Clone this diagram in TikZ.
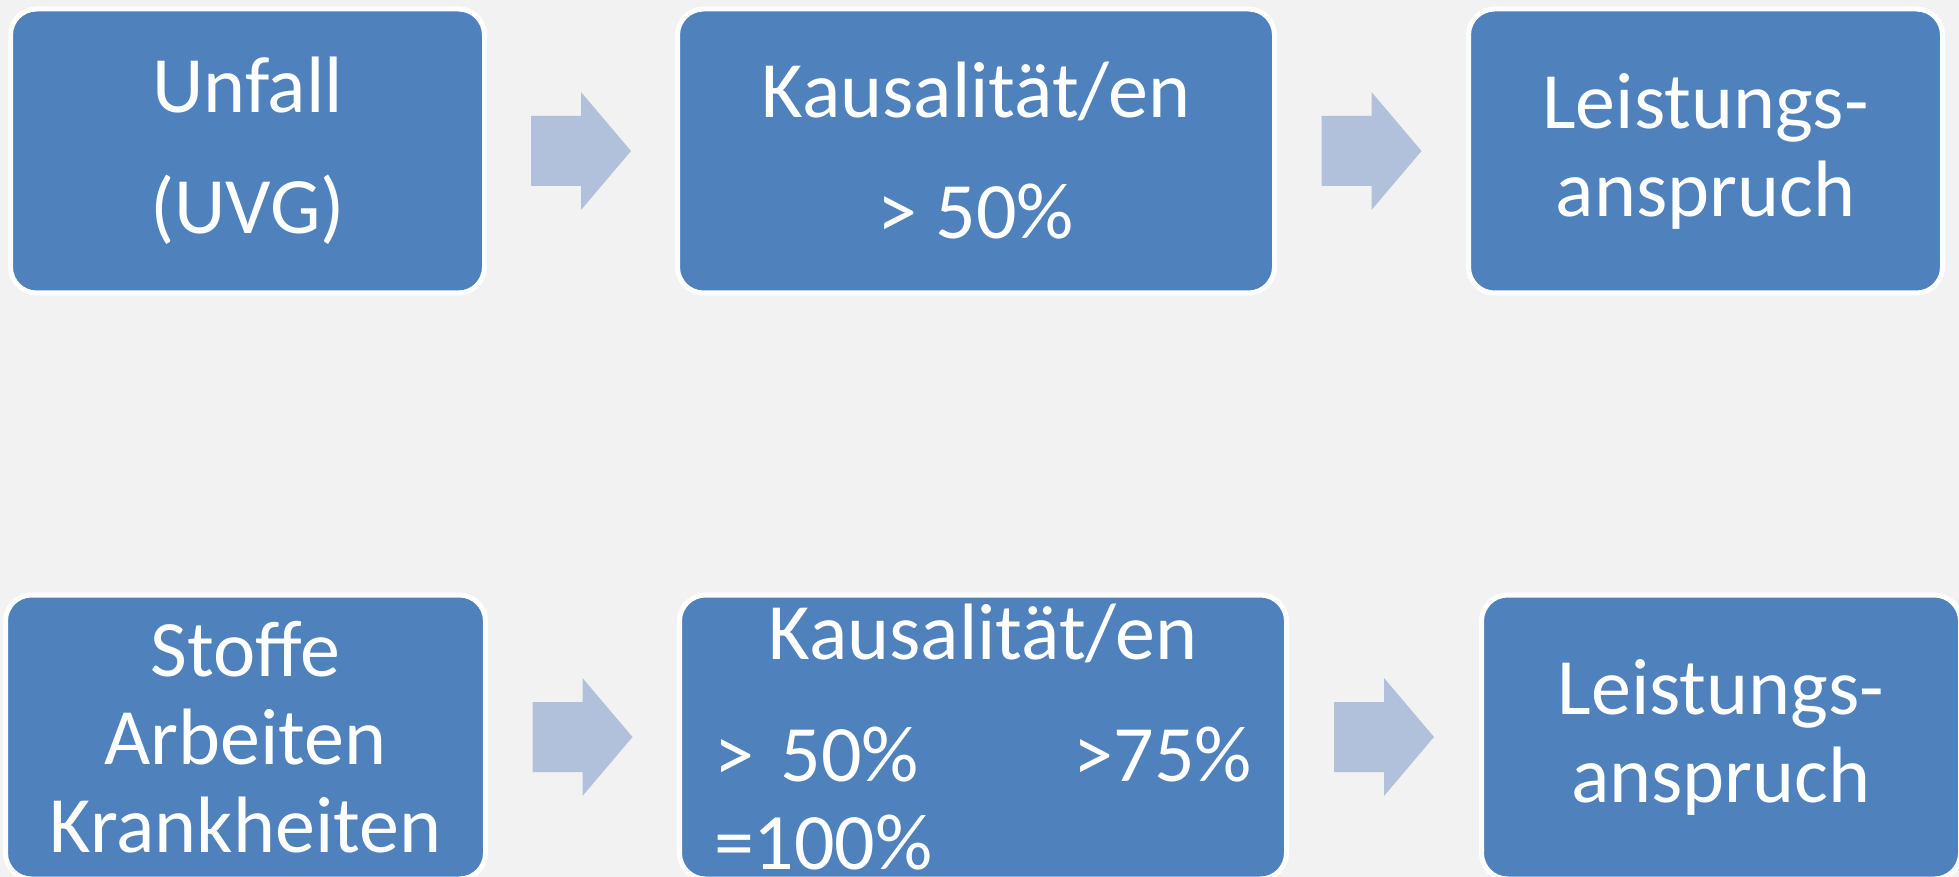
\documentclass[tikz,border=0pt]{standalone}
\usepackage{fontspec}
\setmainfont{Carlito}
\usetikzlibrary{calc}
\definecolor{boxBlue}{HTML}{4F81BD}
\definecolor{arrowBlue}{RGB}{178,193,219}
\definecolor{slideGray}{HTML}{F2F2F2}
\tikzset{
  flowbox/.style={draw=white,line width=2.5pt,fill=boxBlue,rounded corners=13pt,
    minimum height=142pt,inner sep=0pt,text=white,align=center,
    font=\fontsize{40}{44}\selectfont},
}
\NewDocumentCommand\FlowArrow{mm}%
{%
\fill[arrowBlue] ($(#1.east)!.5!(#2.west)$) ++(-50,-35) -- ++(50,0) -- ++(0,-24)
  -- ++(50,59) -- ++(-50,59) -- ++(0,-24) -- ++(-50,0) -- cycle;%
}

\begin{document}
\begin{tikzpicture}[x=0.5pt,y=-0.5pt]
\useasboundingbox (0,0) rectangle (1959,877);
\fill[slideGray] (0,0) rectangle (1959,877);
% upper row
\node[flowbox,minimum width=237pt] (unfall) at (247.5,151) {Unfall\\[16.5pt](UVG)};
\node[flowbox,minimum width=298.5pt] (kausal) at (976,151) {Kausalität/en\\[16.5pt]> 50\%};
\node[flowbox,minimum width=237pt] (leistung) at (1705.5,151) {Leistungs-\\anspruch};
% lower row
\node[flowbox,minimum width=240pt] (stoffe) at (245.5,737) {Stoffe\\Arbeiten\\Krankheiten};
\node[flowbox,minimum width=303.5pt,text width=269pt,align=left] (kausalbk) at (983,737)
  {\makebox[269pt]{Kausalität/en}\\[17pt]> 50\%\hfill>75\%\\=100\%};
\node[flowbox,minimum width=239.5pt] (leistungbk) at (1721,737) {Leistungs-\\anspruch};
\foreach \a/\b in {unfall/kausal,kausal/leistung,stoffe/kausalbk,kausalbk/leistungbk}
  \FlowArrow{\a}{\b};
\end{tikzpicture}
\end{document}
